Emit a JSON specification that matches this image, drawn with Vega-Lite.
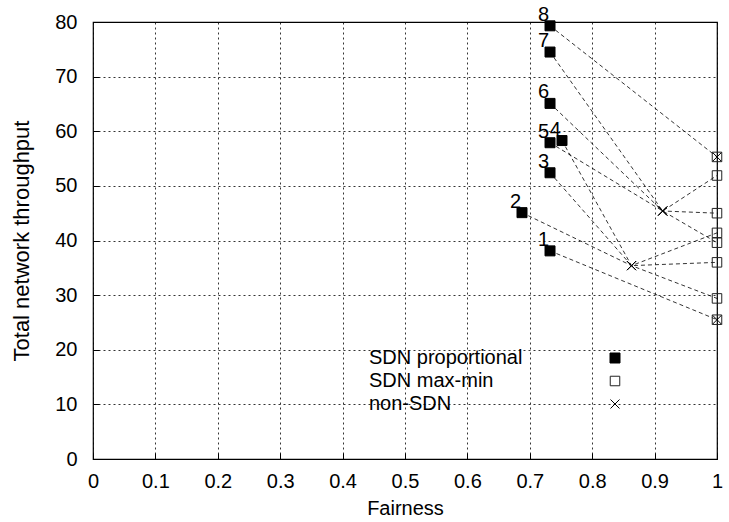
{
  "$schema": "https://vega.github.io/schema/vega-lite/v6.json",
  "width": 624,
  "height": 437,
  "autosize": {"type": "none"},
  "padding": {"left": 93, "top": 22, "right": 12, "bottom": 63},
  "background": "white",
  "config": {
    "font": "Liberation Sans",
    "view": {"stroke": "black", "strokeWidth": 1.2},
    "axis": {
      "grid": true,
      "gridColor": "black",
      "gridDash": [2, 3],
      "gridWidth": 0.8,
      "gridOpacity": 1,
      "domain": false,
      "ticks": true,
      "tickSize": -6,
      "tickColor": "black",
      "tickWidth": 1,
      "labelFont": "Liberation Sans",
      "labelFontSize": 20,
      "labelColor": "black",
      "titleFont": "Liberation Sans",
      "titleFontSize": 20,
      "titleFontWeight": "normal",
      "titleColor": "black"
    },
    "legend": {
      "orient": "none",
      "legendX": 275,
      "legendY": 326,
      "title": null,
      "padding": 0,
      "labelFont": "Liberation Sans",
      "labelFontSize": 20,
      "labelColor": "black",
      "labelLimit": 400,
      "labelOffset": -256,
      "symbolOffset": 237,
      "rowPadding": 3,
      "symbolStrokeWidth": 1
    }
  },
  "data": {
    "values": [
      {"case": "1", "series": "SDN proportional", "step": 1, "fairness": 0.7324, "throughput": 38.1},
      {"case": "1", "series": "non-SDN", "step": 2, "fairness": 1.0, "throughput": 25.5},
      {"case": "1", "series": "SDN max-min", "step": 3, "fairness": 1.0, "throughput": 25.5},
      {"case": "2", "series": "SDN proportional", "step": 1, "fairness": 0.6875, "throughput": 45.1},
      {"case": "2", "series": "non-SDN", "step": 2, "fairness": 0.863, "throughput": 35.4},
      {"case": "2", "series": "SDN max-min", "step": 3, "fairness": 1.0, "throughput": 29.4},
      {"case": "3", "series": "SDN proportional", "step": 1, "fairness": 0.7324, "throughput": 52.4},
      {"case": "3", "series": "non-SDN", "step": 2, "fairness": 0.863, "throughput": 35.4},
      {"case": "3", "series": "SDN max-min", "step": 3, "fairness": 1.0, "throughput": 36.0},
      {"case": "4", "series": "SDN proportional", "step": 1, "fairness": 0.7516, "throughput": 58.3},
      {"case": "4", "series": "non-SDN", "step": 2, "fairness": 0.863, "throughput": 35.4},
      {"case": "4", "series": "SDN max-min", "step": 3, "fairness": 1.0, "throughput": 41.4},
      {"case": "5", "series": "SDN proportional", "step": 1, "fairness": 0.7324, "throughput": 57.9},
      {"case": "5", "series": "non-SDN", "step": 2, "fairness": 0.913, "throughput": 45.4},
      {"case": "5", "series": "SDN max-min", "step": 3, "fairness": 1.0, "throughput": 39.6},
      {"case": "6", "series": "SDN proportional", "step": 1, "fairness": 0.7324, "throughput": 65.1},
      {"case": "6", "series": "non-SDN", "step": 2, "fairness": 0.913, "throughput": 45.4},
      {"case": "6", "series": "SDN max-min", "step": 3, "fairness": 1.0, "throughput": 45.0},
      {"case": "7", "series": "SDN proportional", "step": 1, "fairness": 0.7324, "throughput": 74.5},
      {"case": "7", "series": "non-SDN", "step": 2, "fairness": 0.913, "throughput": 45.4},
      {"case": "7", "series": "SDN max-min", "step": 3, "fairness": 1.0, "throughput": 51.9},
      {"case": "8", "series": "SDN proportional", "step": 1, "fairness": 0.7324, "throughput": 79.3},
      {"case": "8", "series": "non-SDN", "step": 2, "fairness": 1.0, "throughput": 55.3},
      {"case": "8", "series": "SDN max-min", "step": 3, "fairness": 1.0, "throughput": 55.3}
    ]
  },
  "encoding": {
    "x": {
      "field": "fairness",
      "type": "quantitative",
      "scale": {"domain": [0, 1], "nice": false, "zero": false},
      "axis": {
        "title": "Fairness",
        "values": [0, 0.1, 0.2, 0.3, 0.4, 0.5, 0.6, 0.7, 0.8, 0.9, 1],
        "format": "~g",
        "labelPadding": 18,
        "titlePadding": 7,
        "labelFlush": false
      }
    },
    "y": {
      "field": "throughput",
      "type": "quantitative",
      "scale": {"domain": [0, 80], "nice": false},
      "axis": {
        "title": "Total network throughput",
        "titleFontSize": 22,
        "values": [0, 10, 20, 30, 40, 50, 60, 70, 80],
        "labelPadding": 22,
        "titlePadding": 21,
        "labelFlush": false
      }
    }
  },
  "layer": [
    {
      "mark": {"type": "line", "color": "black", "strokeWidth": 0.8, "strokeDash": [4, 3]},
      "encoding": {
        "detail": {"field": "case"},
        "order": {"field": "step", "type": "quantitative"}
      }
    },
    {
      "mark": {"type": "point", "filled": false, "opacity": 1, "strokeWidth": 1},
      "encoding": {
        "shape": {
          "field": "series",
          "type": "nominal",
          "scale": {
            "domain": ["SDN proportional", "SDN max-min", "non-SDN"],
            "range": ["square", "square", "M-1,-1L1,1M-1,1L1,-1"]
          }
        },
        "fill": {
          "field": "series",
          "type": "nominal",
          "scale": {
            "domain": ["SDN proportional", "SDN max-min", "non-SDN"],
            "range": ["black", "transparent", "transparent"]
          }
        },
        "stroke": {
          "field": "series",
          "type": "nominal",
          "scale": {
            "domain": ["SDN proportional", "SDN max-min", "non-SDN"],
            "range": ["black", "#222222", "black"]
          }
        },
        "size": {
          "field": "series",
          "type": "nominal",
          "scale": {
            "domain": ["SDN proportional", "SDN max-min", "non-SDN"],
            "range": [100, 81, 100]
          }
        }
      }
    },
    {
      "transform": [{"filter": "datum.series === 'SDN proportional'"}],
      "mark": {"type": "text", "align": "right", "baseline": "alphabetic", "dx": -1, "dy": -5, "fontSize": 20, "font": "Liberation Sans", "color": "black"},
      "encoding": {
        "text": {"field": "case", "type": "nominal"}
      }
    }
  ]
}
